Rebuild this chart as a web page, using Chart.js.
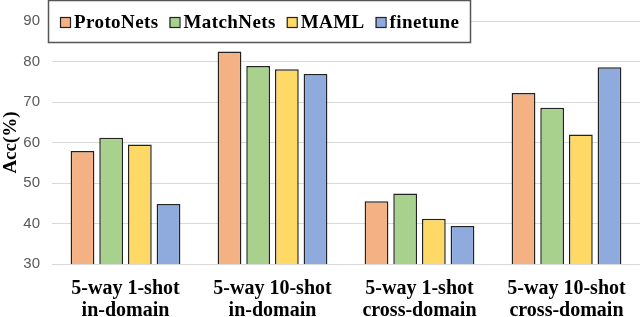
<!DOCTYPE html>
<html>
<head>
<meta charset="utf-8">
<script src="https://cdn.jsdelivr.net/npm/chart.js@4"></script>
<style>
  html, body { margin: 0; padding: 0; background: #fff; }
  #wrap { width: 640px; height: 317px; }
</style>
</head>
<body>
<div id="wrap"><canvas id="myChart" width="640" height="317"></canvas></div>
<script>
// categories (two-line labels)
const categories = [
  ["5-way 1-shot", "in-domain"],
  ["5-way 10-shot", "in-domain"],
  ["5-way 1-shot", "cross-domain"],
  ["5-way 10-shot", "cross-domain"],
];
const seriesNames = ["ProtoNets", "MatchNets", "MAML", "finetune"];
const protoNets = [57.9, 82.5, 45.5, 72.2];
const matchNets = [61.2, 78.9, 47.4, 68.6];
const maml = [59.5, 78.1, 41.2, 62.0];
const finetune = [44.8, 76.9, 39.4, 78.6];
const yTicks = [30, 40, 50, 60, 70, 80, 90];

const colors = ["#F4B183", "#A9D18E", "#FFD966", "#8FAADC"];
const values = [protoNets, matchNets, maml, finetune];

// legend box drawn on top of the plot, like the original figure
const boxLegend = {
  id: "boxLegend",
  afterDraw(chart) {
    const ctx = chart.ctx;
    ctx.save();
    ctx.fillStyle = "#fff";
    ctx.fillRect(48, 0, 423, 43);
    ctx.strokeStyle = "#555";
    ctx.lineWidth = 1.5;
    ctx.strokeRect(48.5, 0.5, 422, 42);
    ctx.font = "bold 19px 'Liberation Serif'";
    ctx.letterSpacing = "0.4px";
    ctx.textBaseline = "middle";
    let x = 60;
    seriesNames.forEach((name, i) => {
      ctx.fillStyle = colors[i];
      ctx.fillRect(x, 17, 10, 11);
      ctx.strokeStyle = "#222";
      ctx.lineWidth = 1.2;
      ctx.strokeRect(x + 0.5, 17.5, 10, 10);
      ctx.fillStyle = "#000";
      ctx.fillText(name, x + 14, 23);
      x += 14 + ctx.measureText(name).width + 11;
    });
    ctx.restore();
  },
};

const ctx = document.getElementById("myChart").getContext("2d");
new Chart(ctx, {
  type: "bar",
  data: {
    labels: categories,
    datasets: seriesNames.map((name, i) => ({
      label: name,
      data: values[i],
      backgroundColor: colors[i],
      borderColor: "#222",
      borderWidth: 1.5,
      categoryPercentage: 0.78,
      barPercentage: 0.83,
    })),
  },
  options: {
    responsive: false,
    animation: false,
    layout: { padding: { top: 16, right: 0, left: 0, bottom: 0 } },
    plugins: {
      legend: { display: false },
      tooltip: { enabled: false },
    },
    scales: {
      x: {
        grid: { display: false },
        border: { display: true, color: "#d9d9d9", width: 1 },
        afterFit(scale) {
          scale.height = 53;
        },
        ticks: {
          color: "#000",
          padding: 6,
          maxRotation: 0,
          font: { family: "'Liberation Serif'", size: 20, weight: "bold", lineHeight: 1.1 },
        },
      },
      y: {
        min: 30,
        max: 90,
        afterBuildTicks(scale) {
          scale.ticks = yTicks.map((v) => ({ value: v }));
        },
        afterFit(scale) {
          scale.width = 52;
        },
        grid: { color: "#d9d9d9", drawTicks: false },
        border: { display: false },
        ticks: {
          color: "#595959",
          padding: 12,
          font: { family: "'Liberation Sans'", size: 15 },
        },
        title: {
          display: true,
          text: "Acc(%)",
          color: "#000",
          padding: { top: 0, bottom: 0 },
          font: { family: "'Liberation Serif'", size: 19, weight: "bold" },
        },
      },
    },
  },
  plugins: [boxLegend],
});
</script>
</body>
</html>
